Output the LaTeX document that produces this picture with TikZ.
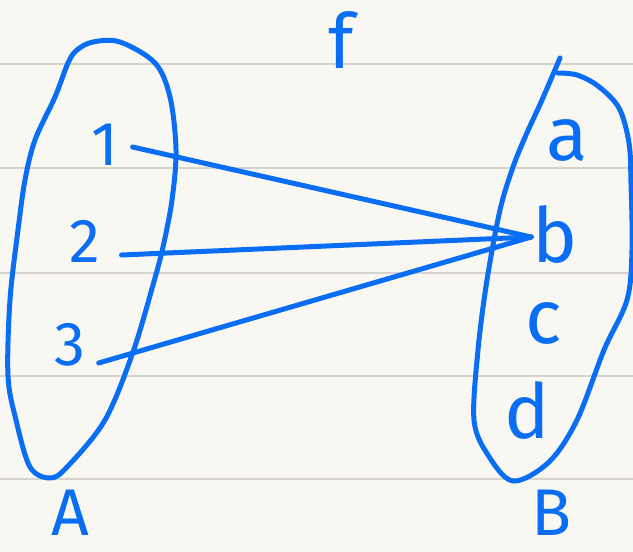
\documentclass[tikz,border=0pt]{standalone}
\usepackage{fontspec}
\newfontfamily\handfont{Fira Sans}
\definecolor{ink}{RGB}{10,110,245}
\definecolor{paper}{RGB}{249,247,242}
\definecolor{rule}{RGB}{214,211,205}
\tikzset{
  ruling/.style={draw=rule, line width=1.4pt},
  setloop/.style={draw=ink, line width=5pt, line cap=round, line join=round},
  maparrow/.style={draw=ink, line width=5pt, line cap=round},
  elem/.style={text=ink, inner sep=0pt, font=\handfont\fontsize{62}{62}\selectfont},
  letter/.style={elem, font=\handfont\fontsize{76}{76}\selectfont},
  setname/.style={elem, font=\handfont\fontsize{66}{66}\selectfont}
}
\begin{document}
\begin{tikzpicture}[x=1pt, y=-1pt]
  % paper and ruled lines
  \fill[paper] (0,0) rectangle (633,552);
  \useasboundingbox (0,0) rectangle (633,552);
  \foreach \ry in {64,168,273,376,479}
    \draw[ruling] (0,\ry) -- (633,\ry);

  % set A
  \draw[setloop] plot[smooth cycle, tension=0.55] coordinates {
    (77,50) (93,42) (120,42) (155,63) (170,97) (176,150) (172,200)
    (163,247) (153,285) (133,352) (105,420) (67,467) (50,478) (30,467)
    (16,420) (8,376) (10,300) (18,230) (25,180) (35,140) (55,97) (68,63)};
  % set B
  \draw[setloop] plot[smooth, tension=0.55] coordinates {
    (560,58) (542,100) (526,135) (513,167) (500,210) (487,280) (478,350)
    (474,420) (488,455) (513,481) (549,462) (577,420) (604,350) (627,300)
    (632,250) (631,183) (629,143) (619,108) (598,86) (577,75) (558,73)};

  % labels
  \node[letter] (f) at (341,40) {f};
  \node[elem] (n1) at (105,145) {1};
  \node[elem] (n2) at (85,241) {2};
  \node[elem] (n3) at (70,345) {3};
  \node[setname] (A) at (70,513) {A};
  \node[letter] (na) at (567,140) {a};
  \node[letter] (nb) at (555,234) {b};
  \node[letter] (nc) at (544,323) {c};
  \node[letter] (nd) at (527,410) {d};
  \node[setname] (B) at (552,513) {B};

  % the mapping
  \draw[maparrow] ([shift={(14,2)}]n1.east) -- ([shift={(-1,3)}]nb.west);
  \draw[maparrow] ([shift={(21,14)}]n2.east) -- ([shift={(-1,3)}]nb.west);
  \draw[maparrow] ([shift={(13,18)}]n3.east) -- ([shift={(-1,3)}]nb.west);
\end{tikzpicture}
\end{document}
